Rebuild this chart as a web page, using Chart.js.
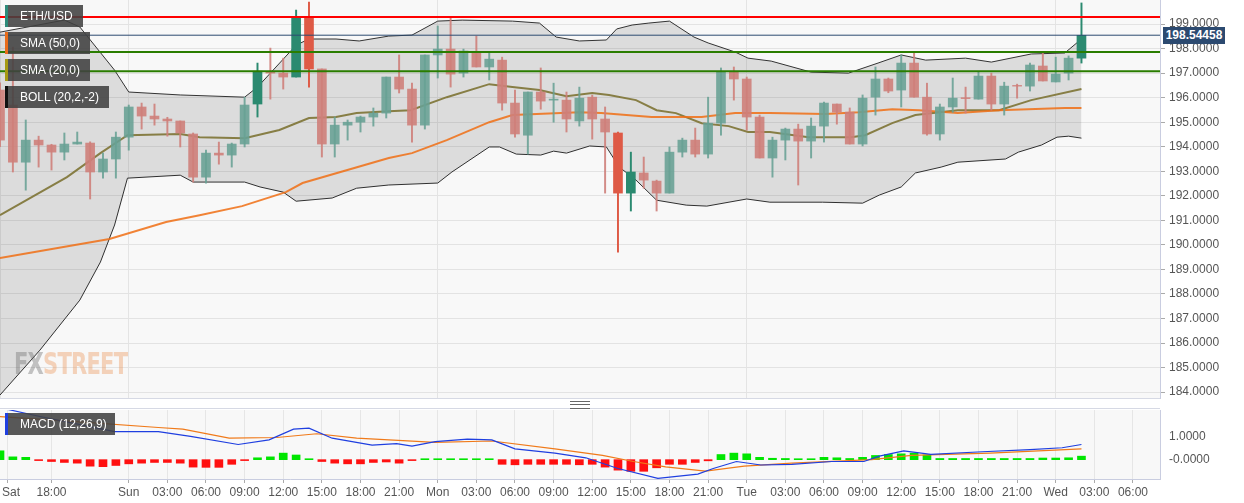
<!DOCTYPE html>
<html><head><meta charset="utf-8">
<script src="https://cdn.jsdelivr.net/npm/chart.js@4.4.1/dist/chart.umd.min.js"></script>
<style>
body{margin:0;background:#fff;font-family:"Liberation Sans",Arial,sans-serif;}
#wrap{position:relative;width:1244px;height:503px;overflow:hidden;background:#fff}
#c1{position:absolute;left:0;top:0}
#c2{position:absolute;left:0;top:407px}
.lg{position:absolute;left:5px;height:22px;background:rgba(65,65,65,0.88);color:#fff;font-size:12px;line-height:22px;padding:0 10px 0 12px;border-left:3px solid #000}
#sep{position:absolute;left:0;top:398px;width:1160px;height:9px;border-top:1px solid #d6d9e4;border-bottom:1px solid #d6d9e4;background:#fff}
#hd{position:absolute;left:570px;top:401px;width:20px;height:6px;border-top:1px solid #666;border-bottom:1px solid #666}
#hd:after{content:"";position:absolute;left:0;top:2px;width:20px;border-top:1px solid #666}
#price{position:absolute;left:1163px;top:27px;width:62px;height:17px;background:#2c4a70;color:#fff;font-size:12px;font-weight:bold;line-height:17px;text-align:center}
#fx{position:absolute;left:14px;top:346px;font-size:30px;font-weight:bold;letter-spacing:-1px;font-family:"DejaVu Sans Condensed","Liberation Sans Narrow",sans-serif;transform:scaleX(0.78);transform-origin:left top}
#fx .a{color:rgba(110,110,110,0.4)} #fx .b{color:rgba(235,150,90,0.4)}
#sat{position:absolute;left:2px;top:485px;font-size:12px;color:#555}
</style></head><body>
<div id="wrap">
<canvas id="c1" width="1244" height="400"></canvas>
<canvas id="c2" width="1244" height="96"></canvas>
<div id="sep"></div><div id="hd"></div>
<div class="lg" style="top:5px;border-color:#2e8b7a">ETH/USD</div>
<div class="lg" style="top:32px;border-color:#e86c1a">SMA (50,0)</div>
<div class="lg" style="top:59px;border-color:#a69a13">SMA (20,0)</div>
<div class="lg" style="top:86px;border-color:#111">BOLL (20,2,-2)</div>
<div class="lg" style="top:413px;border-color:#1f3fe0;padding-right:8px">MACD (12,26,9)</div>
<div id="price">198.54458</div>
<div id="fx"><span class="a">FX</span><span class="b">STREET</span></div>
<div id="sat">Sat</div>
</div>
<script>
// candles [open, high, low, close], hourly from Sat 14:00
const candles = [
[196.31,196.6,194.0,194.27],[195.70,198.06,192.97,193.37],[193.37,195.09,192.23,194.27],[194.27,194.43,193.17,194.07],
[194.07,194.10,193.05,193.78],[193.78,194.56,193.46,194.11],[194.11,194.60,194.11,194.19],[194.15,194.20,191.87,192.97],
[192.97,193.74,192.72,193.50],[193.50,194.60,192.72,194.39],[194.39,195.70,193.86,195.62],[195.62,195.78,194.72,195.25],
[195.25,195.74,194.88,195.13],[195.13,195.20,194.43,195.05],[195.05,195.05,193.99,194.56],[194.52,194.56,192.56,192.76],
[192.76,193.86,192.52,193.74],[193.74,194.19,193.29,193.66],[193.66,194.15,193.17,194.11],[194.11,196.02,193.99,195.70],
[195.74,197.41,195.21,197.08],[197.04,198.02,195.94,197.00],[197.00,197.61,196.35,196.84],[196.84,199.57,196.84,199.29],
[199.29,199.90,196.43,197.17],[197.17,197.17,193.58,194.11],[194.11,195.21,193.58,194.88],[194.88,195.09,194.27,195.00],
[195.00,195.25,194.60,195.21],[195.21,195.58,194.84,195.37],[195.37,196.84,195.17,196.84],[196.84,197.74,196.19,196.35],
[196.35,196.59,194.19,194.88],[194.88,197.74,194.72,197.74],[197.74,198.92,196.80,197.98],[197.98,199.29,196.43,196.96],
[197.00,197.98,196.84,197.90],[197.86,198.51,197.25,197.25],[197.25,197.82,196.72,197.57],[197.53,197.65,195.49,195.78],
[195.78,196.31,194.39,194.52],[194.47,196.23,193.70,196.23],[196.23,197.21,195.53,195.86],[195.90,196.59,195.00,195.94],
[195.90,196.23,194.60,195.13],[195.05,196.43,194.84,195.98],[196.02,196.10,194.31,195.13],[195.13,195.62,192.11,194.60],
[194.56,194.60,189.70,192.11],[192.11,193.78,191.38,192.97],[192.93,193.58,192.31,192.64],[192.60,192.64,191.38,192.11],
[192.11,193.99,192.11,193.78],[193.78,194.35,193.58,194.27],[194.27,194.76,193.58,193.70],[193.70,196.02,193.54,194.96],
[194.96,197.21,194.47,197.04],[197.04,197.25,195.90,196.76],[196.76,196.84,194.68,195.21],[195.21,195.29,193.54,193.54],
[193.54,194.39,192.76,194.27],[194.27,194.76,193.46,194.72],[194.72,194.92,192.44,194.23],[194.23,195.17,193.54,194.84],
[194.84,195.82,194.19,195.78],[195.74,195.74,194.92,195.41],[195.41,195.58,194.11,194.11],[194.11,196.11,194.03,195.98],
[196.02,197.25,195.29,196.76],[196.76,196.80,196.20,196.27],[196.31,197.74,195.62,197.41],[197.41,197.82,196.02,196.02],
[196.02,196.59,194.47,194.52],[194.52,195.74,194.27,195.62],[195.62,196.80,195.40,195.98],[196.00,196.43,195.37,195.98],
[195.94,197.04,195.94,196.88],[196.88,197.00,195.49,195.74],[195.74,196.63,195.29,196.47],[196.50,196.55,195.98,196.47],
[196.47,197.41,196.27,197.33],[197.29,197.86,196.68,196.68],[196.64,197.65,196.64,196.96],[197.00,197.70,196.72,197.61],
[197.61,199.86,197.41,198.54]];
const strongCandles = [20,23,24,48,49,84];
const bollUpper = [[0,198.67],[5,199.16],[6.2,198.88],[8.9,197.12],[10,196.23],[14,196.11],[19,196.02],[20,196.43],[23,198.14],[24,198.39],[26.1,198.39],[27.9,198.31],[30.2,198.51],[32,198.55],[34,199.12],[35.9,199.16],[39.8,199.12],[41.9,199.04],[43.2,198.47],[45,198.31],[47.1,198.35],[47.9,198.80],[49.1,198.96],[50.4,199.04],[52,199.12],[53.9,198.47],[55,198.23],[57.1,197.86],[58.1,197.61],[59.9,197.49],[63,197.04],[65.9,197.00],[68.2,197.41],[70,197.74],[71.9,197.53],[75,197.61],[77,197.45],[80.1,197.78],[82.7,197.82],[84,198.39]];
const bollLower = [[0,183.88],[3.1,185.71],[6.2,187.75],[7.8,189.30],[8.9,190.81],[9.9,192.72],[14,192.84],[15,192.56],[19,192.56],[20.2,192.36],[22,192.15],[23,191.78],[25.8,191.91],[27.7,192.31],[30.2,192.44],[34,192.52],[35.1,192.97],[38,193.99],[38.8,193.99],[40.1,193.70],[42,193.66],[43,193.82],[44,193.74],[45.8,194.03],[47.1,193.99],[48.1,193.17],[49.4,192.64],[51,191.82],[53.3,191.62],[54.9,191.58],[58,191.87],[59.8,191.74],[63.9,191.74],[67,191.70],[68.3,192.03],[70,192.36],[71.1,192.93],[73.1,193.17],[74.4,193.37],[78.1,193.50],[79.1,193.78],[80.9,194.07],[82.1,194.39],[83,194.43],[84,194.35]];
const sma20 = [[0,191.21],[5.2,192.76],[7.8,193.74],[9.9,194.47],[14,194.52],[15.5,194.39],[19,194.35],[21.7,194.68],[24,195.17],[26.1,195.21],[27.7,195.37],[30.2,195.45],[31.9,195.49],[34.7,196.02],[38,196.55],[39.8,196.43],[41.9,196.31],[44,196.06],[46,196.19],[47.3,196.11],[49.4,195.90],[51,195.49],[52.5,195.37],[54.5,194.96],[56.6,194.84],[58.1,194.60],[59.8,194.60],[62.8,194.39],[66.1,194.39],[67.2,194.47],[69.3,194.96],[71.1,195.29],[74.4,195.49],[77.6,195.49],[80.1,195.90],[84,196.35]];
const sma50 = [[0,189.46],[8.5,190.24],[12.9,190.93],[15.5,191.21],[18.8,191.58],[22.2,192.15],[23.5,192.52],[30.2,193.54],[32,193.74],[34.7,194.27],[38,195.00],[39.8,195.29],[45,195.41],[46.7,195.37],[50.6,195.21],[54.5,195.21],[57.1,195.37],[59.8,195.37],[64.1,195.33],[66.7,195.41],[69.3,195.53],[71.4,195.49],[74.4,195.37],[77.6,195.49],[82.7,195.58],[84,195.58]];
const levels = {red:199.29, price:198.545, g1:197.86, g2:197.08};
const macdLine = [[0,2.23],[3.1,1.85],[8.9,1.2],[12.3,1.2],[14.8,1.0],[18.5,0.65],[20.9,0.85],[22.8,1.31],[24,1.35],[25.8,0.92],[28.9,0.62],[30.8,0.69],[32,0.58],[33.8,0.77],[36.3,0.88],[38.2,0.85],[40,0.46],[43.1,0.28],[45.5,0.08],[48,-0.38],[51.1,-0.8],[54.2,-0.62],[55.4,-0.38],[57.2,-0.08],[59.1,-0.23],[61.5,-0.2],[64.6,-0.08],[67.1,-0.08],[68.3,0.15],[70.2,0.38],[72.3,0.23],[76.3,0.34],[80,0.43],[82.5,0.51],[84,0.65]];
const signalLine = [[0,1.85],[6.2,1.62],[12.3,1.38],[14.2,1.31],[17.8,0.92],[21.5,0.95],[24.6,1.11],[27.7,0.92],[33.8,0.74],[38.2,0.8],[43.1,0.46],[46.8,0.18],[49.2,-0.08],[51.7,-0.31],[54.8,-0.49],[57.8,-0.28],[61.5,-0.15],[67.7,0],[70.8,0.18],[76.9,0.28],[84,0.46]];
const histogram = [0.38,0.12,0.1,-0.02,-0.08,-0.12,-0.15,-0.28,-0.3,-0.25,-0.18,-0.15,-0.12,-0.12,-0.15,-0.32,-0.33,-0.33,-0.2,-0.02,0.08,0.12,0.28,0.2,0.02,-0.08,-0.15,-0.18,-0.18,-0.12,-0.1,-0.15,-0.02,0.02,0.03,0.03,0.02,0.02,0.02,-0.2,-0.22,-0.2,-0.2,-0.2,-0.2,-0.22,-0.2,-0.32,-0.45,-0.5,-0.5,-0.35,-0.2,-0.2,-0.12,-0.05,0.22,0.28,0.25,0.1,0.06,0.05,0.04,0.04,0.1,0.08,0.05,0.1,0.18,0.22,0.25,0.28,0.2,0.05,0.05,0.05,0.05,0.05,0.05,0.05,0.05,0.07,0.07,0.08,0.15];
const timeTicks = [[0.6,''],[4,'18:00'],[10,'Sun'],[13,'03:00'],[16,'06:00'],[19,'09:00'],[22,'12:00'],[25,'15:00'],[28,'18:00'],[31,'21:00'],[34,'Mon'],[37,'03:00'],[40,'06:00'],[43,'09:00'],[46,'12:00'],[49,'15:00'],[52,'18:00'],[55,'21:00'],[58,'Tue'],[61,'03:00'],[64,'06:00'],[67,'09:00'],[70,'12:00'],[73,'15:00'],[76,'18:00'],[79,'21:00'],[82,'Wed'],[85,'03:00'],[88,'06:00']];
const dayLines = [0,10,34,58,82];
const priceTicks = [184,185,186,187,188,189,190,191,192,193,194,195,196,197,198,199];

const XMIN=0, XMAX=90.1;
const pts = a => a.map(p=>({x:p[0],y:p[1]}));
const hline = v => [{x:XMIN,y:v},{x:XMAX,y:v}];
const up = c => c[3]>=c[0];
const col = (c,i) => strongCandles.includes(i) ? (up(c)?'#2b8a70':'#de5a46') : (up(c)?'rgba(104,160,148,0.88)':'rgba(206,128,122,0.9)');
const bodies = candles.map((c,i)=>({x:i,y:[c[0], Math.abs(c[3]-c[0])<0.03 ? c[0]+(up(c)?0.04:-0.04) : c[3]]}));
const wicks = candles.map((c,i)=>({x:i,y:[c[2],c[1]]}));
const font = {family:'"Liberation Sans", Arial, sans-serif', size:12};
const noPadY = s=>{s.width=84;s.paddingTop=0;s.paddingBottom=0;};
const noPadX = h=>s=>{s.height=h;s.paddingLeft=0;s.paddingRight=0;};

new Chart(document.getElementById('c1'), {
  data:{datasets:[
    {type:'line',data:hline(levels.red),borderColor:'#ff0000',borderWidth:2,pointRadius:0,order:1},
    {type:'line',data:hline(levels.price),borderColor:'#2c4a70',borderWidth:1,pointRadius:0,order:1},
    {type:'line',data:hline(levels.g1),borderColor:'#2a7d00',borderWidth:2,pointRadius:0,order:1},
    {type:'line',data:hline(levels.g2),borderColor:'#2a7d00',borderWidth:2,pointRadius:0,order:1},
    {type:'bar',data:bodies,backgroundColor:candles.map(col),barThickness:9,grouped:false,order:2,borderSkipped:false},
    {type:'bar',data:wicks,backgroundColor:candles.map(col),barThickness:1.3,grouped:false,order:3},
    {type:'line',data:pts(sma50),borderColor:'rgba(240,110,20,0.85)',borderWidth:2,pointRadius:0,order:4},
    {type:'line',data:pts(sma20),borderColor:'rgba(130,120,60,0.95)',borderWidth:2,pointRadius:0,order:4},
    {type:'line',data:pts(bollUpper),borderColor:'#333',borderWidth:1,pointRadius:0,fill:'+1',backgroundColor:'rgba(0,0,0,0.11)',order:5},
    {type:'line',data:pts(bollLower),borderColor:'#333',borderWidth:1,pointRadius:0,order:5}
  ]},
  options:{animation:false,responsive:false,devicePixelRatio:1,
    plugins:{legend:{display:false},tooltip:{enabled:false}},
    layout:{padding:0},
    scales:{
      x:{type:'linear',min:XMIN,max:XMAX,offset:false,position:'bottom',
        afterBuildTicks:s=>{s.ticks=dayLines.map(v=>({value:v}));},
        ticks:{display:false},grid:{color:'#e4e4e4',drawTicks:false,offset:false},border:{display:false},
        afterFit:noPadX(2)},
      y:{type:'linear',position:'right',min:183.76,max:199.98,
        afterBuildTicks:s=>{s.ticks=priceTicks.map(v=>({value:v}));},
        ticks:{callback:v=>v.toFixed(4),color:'#555',font,padding:4},
        grid:{color:'#e3e3e3',tickLength:5,tickColor:'#aaa'},
        border:{color:'#c9cde0'},
        afterFit:noPadY}
    }
  },
  plugins:[{id:'bg',beforeDraw:ch=>{const a=ch.chartArea,c=ch.ctx;c.save();c.fillStyle='#f8f8f8';c.fillRect(a.left,a.top,a.right-a.left,a.bottom-a.top);c.restore();}}]
});

new Chart(document.getElementById('c2'), {
  data:{datasets:[
    {type:'line',data:pts(macdLine),borderColor:'#1f3fe0',borderWidth:1.2,pointRadius:0,order:1},
    {type:'line',data:pts(signalLine),borderColor:'#f07a1a',borderWidth:1.2,pointRadius:0,order:1},
    {type:'bar',data:histogram.map((v,i)=>({x:i,y:Math.abs(v)<0.04?(v>=0?0.04:-0.04):v})),backgroundColor:histogram.map(v=>v>=0?'#00e600':'#ff1010'),barThickness:8,order:2}
  ]},
  options:{animation:false,responsive:false,devicePixelRatio:1,
    plugins:{legend:{display:false},tooltip:{enabled:false}},
    layout:{padding:{left:0,top:3,right:0,bottom:0}},
    scales:{
      x:{type:'linear',min:XMIN,max:XMAX,offset:false,
        afterBuildTicks:s=>{s.ticks=timeTicks.map(t=>({value:t[0]}));},
        ticks:{autoSkip:false,maxRotation:0,color:'#555',font,padding:2,
          callback:(v)=>{const t=timeTicks.find(t=>t[0]===v);return t?t[1]:'';}},
        grid:{color:'#e6e6e6',tickLength:4,tickColor:'#aaa',offset:false},border:{color:'#c9cde0'},
        afterFit:noPadX(24)},
      y:{type:'linear',position:'right',min:-0.83,max:2.13,
        afterBuildTicks:s=>{s.ticks=[{value:0},{value:1}];},
        ticks:{callback:v=>v===0?'-0.0000':'1.0000',color:'#555',font,padding:4},
        grid:{display:false,tickLength:5,tickColor:'#aaa'},border:{color:'#c9cde0'},
        afterFit:noPadY}
    }
  },
  plugins:[{id:'bg2',beforeDraw:ch=>{const a=ch.chartArea,c=ch.ctx;c.save();c.fillStyle='#f8f8f8';c.fillRect(a.left,a.top,a.right-a.left,a.bottom-a.top);c.restore();}}]
});
</script>
</body></html>
